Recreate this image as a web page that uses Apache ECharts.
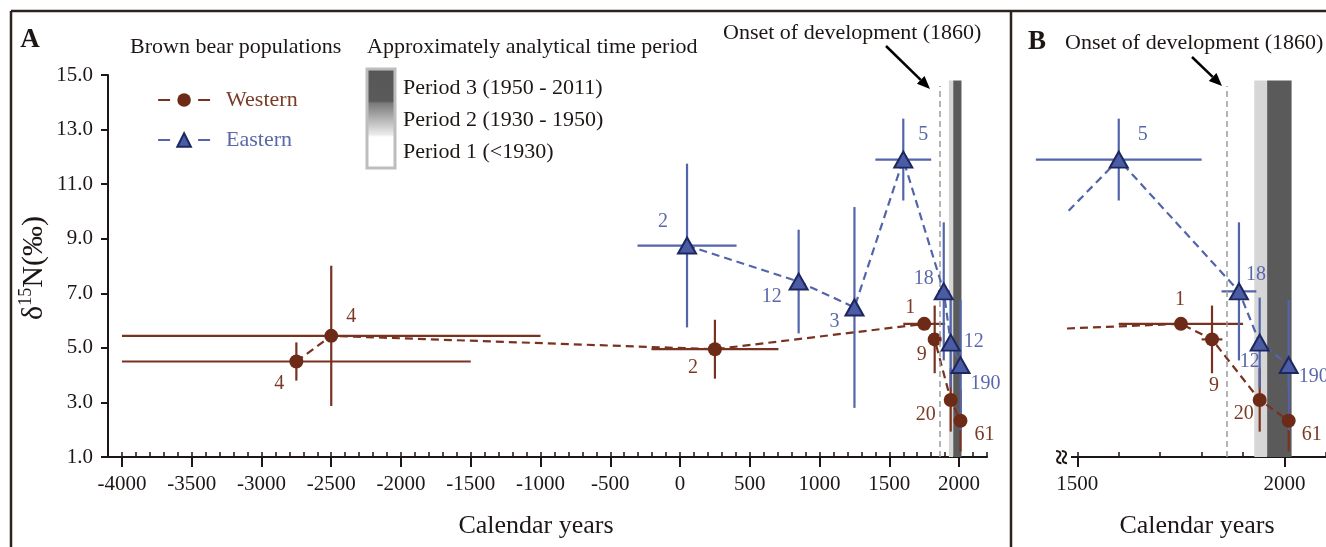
<!DOCTYPE html>
<html>
<head>
  <meta charset="UTF-8">
  <title>Brown bear δ15N</title>
  <script src="https://cdn.jsdelivr.net/npm/echarts@6/dist/echarts.min.js"></script>
  <style>
    html, body { margin: 0; padding: 0; background: #fff; }
    #main { width: 1326px; height: 547px; }
  </style>
</head>
<body>
<div id="main"></div>
<script>
  // Western population (brown, circles)
  const westYears = [-2750, -2500, 250, 1750, 1825, 1940, 2010];
  const westD15N = [4.50, 5.44, 4.95, 5.88, 5.31, 3.09, 2.33];
  const westYearErr = [1250, 1500, 455, 150, 25, 0, 0];
  const westD15NErr = [0.70, 2.57, 1.08, 0, 1.24, 1.16, 1.13];
  const westN = [4, 4, 2, 1, 9, 20, 61];

  // Eastern population (blue, triangles)
  const eastYears = [50, 850, 1250, 1600, 1890, 1940, 2010];
  const eastD15N = [8.75, 7.43, 6.48, 11.90, 7.07, 5.19, 4.37];
  const eastYearErr = [355, 0, 0, 200, 42, 0, 0];
  const eastD15NErr = [3.00, 1.90, 3.68, 1.50, 2.53, 1.65, 2.39];
  const eastN = [2, 12, 3, 5, 18, 12, 190];

  // analytical time periods (shaded) and onset of development
  const periodLight = [1927, 1958];
  const periodDark = [1958, 2017];
  const onsetYear = 1860;

  const xTicksA = [-4000, -3500, -3000, -2500, -2000, -1500, -1000, -500, 0, 500, 1000, 1500, 2000];
  const xTicksB = [1500, 2000];

  // label offsets (pixels from the point), per panel
  const westOffA = [[-17, 22], [20, -19], [-22, 19], [-14, -16], [-13, 15], [-25, 15], [24, 14]];
  const westOffB = [[0, 0], [0, 0], [0, 0], [-1, -24], [2, 46], [-16, 14], [23, 14]];
  const eastOffA = [[-24, -24], [-27, 15], [-20, 14], [20, -25], [-20, -13], [23, -1], [25, 19]];
  const eastOffB = [[0, 0], [0, 0], [0, 0], [24, -25], [17, -17], [-10, 19], [25, 12]];

  const serif = '"Liberation Serif", "DejaVu Serif", serif';
  const ink = '#1c1614';
  const brown = '#7a3220';
  const brownDot = '#6c2a17';
  const brownText = '#7a3a26';
  const blue = '#5265aa';
  const triFill = '#4b5ca4';
  const triBorder = '#1c2860';
  const blueText = '#5a68ab';

  function hundreds(a, b) {
    const out = [];
    for (let v = a; v <= b; v += 100) out.push(v);
    return out;
  }

  function errData(xs, ys, exs, eys, lo, hi) {
    const out = [];
    xs.forEach(function (x, i) {
      if (x >= lo && x <= hi) out.push([x, ys[i], exs[i], eys[i]]);
    });
    return out;
  }

  function errRender(color) {
    return function (params, api) {
      const x = api.value(0), y = api.value(1), ex = api.value(2), ey = api.value(3);
      const kids = [];
      if (ey > 0) {
        const p1 = api.coord([x, y + ey]), p2 = api.coord([x, y - ey]);
        kids.push({type: 'line', shape: {x1: p1[0], y1: p1[1], x2: p2[0], y2: p2[1]},
          style: {stroke: color, lineWidth: 2.2}});
      }
      if (ex > 0) {
        const p1 = api.coord([x - ex, y]), p2 = api.coord([x + ex, y]);
        kids.push({type: 'line', shape: {x1: p1[0], y1: p1[1], x2: p2[0], y2: p2[1]},
          style: {stroke: color, lineWidth: 2.2}});
      }
      return {type: 'group', children: kids};
    };
  }

  function pointData(xs, ys, offs) {
    return xs.map(function (x, i) {
      return {value: [x, ys[i]], label: {offset: offs[i]}};
    });
  }

  function arrow(x1, y1, x2, y2) {
    const dx = x2 - x1, dy = y2 - y1, len = Math.sqrt(dx * dx + dy * dy);
    const ux = dx / len, uy = dy / len, h = 13, w = 5.5;
    const bx = x2 - ux * h, by = y2 - uy * h;
    return [
      {type: 'line', shape: {x1: x1, y1: y1, x2: bx, y2: by}, style: {stroke: '#000', lineWidth: 2.5}},
      {type: 'polygon', shape: {points: [[x2, y2], [bx - uy * w, by + ux * w], [bx + uy * w, by - ux * w]]},
        style: {fill: '#000'}}
    ];
  }

  function bandSeries(xi, yi) {
    return {
      type: 'line', xAxisIndex: xi, yAxisIndex: yi, data: [], z: 1, silent: true,
      markArea: {
        silent: true,
        data: [
          [{coord: [periodLight[0], 1], itemStyle: {color: '#d6d6d6'}}, {coord: [periodLight[1], 14.8]}],
          [{coord: [periodDark[0], 1], itemStyle: {color: '#5a5a5a'}}, {coord: [periodDark[1], 14.8]}]
        ]
      },
      markLine: {
        silent: true, symbol: 'none', label: {show: false},
        lineStyle: {color: '#9c9c9c', type: [6, 4], width: 1.5},
        data: [[{coord: [onsetYear, 1]}, {coord: [onsetYear, 14.6]}]]
      }
    };
  }

  function lineSeries(name, xi, yi, xs, ys, offs, ns, isWest) {
    return {
      name: name, type: 'line', xAxisIndex: xi, yAxisIndex: yi, z: isWest ? 4 : 5,
      data: pointData(xs, ys, offs),
      clip: true,
      symbol: isWest ? 'circle' : 'triangle',
      symbolSize: isWest ? 14 : [18, 16],
      lineStyle: {color: isWest ? brown : blue, width: 2.2, type: [8, 5]},
      itemStyle: isWest ? {color: brownDot} : {color: triFill, borderColor: triBorder, borderWidth: 2},
      label: {
        show: true, position: 'inside', fontFamily: serif, fontSize: 20,
        color: isWest ? brownText : blueText,
        formatter: function (p) { return String(ns[p.dataIndex]); }
      },
      emphasis: {disabled: true}
    };
  }

  const axisColor = ink;
  const textBase = {fontFamily: serif, fill: ink, fontSize: 22, verticalAlign: 'middle'};
  const plain = function (v) { return String(v); };

  const option = {
    animation: false,
    backgroundColor: '#fff',
    grid: [
      {left: 108, top: 75, width: 879, height: 382, outerBoundsMode: 'none'},
      {left: 1069, top: 75, width: 257, height: 382, outerBoundsMode: 'none'}
    ],
    legend: {
      left: 152, top: 84, orient: 'vertical', itemWidth: 52, itemHeight: 17, itemGap: 18,
      selectedMode: false,
      lineStyle: {type: [12, 28], width: 2.2},
      textStyle: {fontFamily: serif, fontSize: 22, lineHeight: 22, padding: [0, 0, 0, 11]},
      data: [
        {name: 'Western', textStyle: {color: brownText}},
        {name: 'Eastern', textStyle: {color: blueText}}
      ]
    },
    xAxis: [
      {
        type: 'value', gridIndex: 0, min: -4100, max: 2200, position: 'bottom',
        splitLine: {show: false},
        axisLine: {onZero: false, lineStyle: {color: axisColor, width: 2}},
        axisTick: {customValues: xTicksA, length: 10, lineStyle: {color: axisColor, width: 2}},
        axisLabel: {customValues: xTicksA, fontFamily: serif, fontSize: 21, color: ink, margin: 17, formatter: plain}
      },
      {
        type: 'value', gridIndex: 0, min: -4100, max: 2200, position: 'bottom',
        splitLine: {show: false}, axisLine: {show: false, onZero: false}, axisLabel: {show: false},
        axisTick: {customValues: hundreds(-4000, 2200), inside: true, length: 5, lineStyle: {color: axisColor, width: 1.5}}
      },
      {
        type: 'value', gridIndex: 1, min: 1480, max: 2100, position: 'bottom',
        splitLine: {show: false},
        axisLine: {onZero: false, lineStyle: {color: axisColor, width: 2}},
        axisTick: {customValues: xTicksB, length: 10, lineStyle: {color: axisColor, width: 2}},
        axisLabel: {customValues: xTicksB, fontFamily: serif, fontSize: 21, color: ink, margin: 17, formatter: plain}
      },
      {
        type: 'value', gridIndex: 1, min: 1480, max: 2100, position: 'bottom',
        splitLine: {show: false}, axisLine: {show: false, onZero: false}, axisLabel: {show: false},
        axisTick: {customValues: hundreds(1500, 2100), inside: true, length: 5, lineStyle: {color: axisColor, width: 1.5}}
      }
    ],
    yAxis: [
      {
        type: 'value', gridIndex: 0, min: 1, max: 15, interval: 2, position: 'left',
        splitLine: {show: false},
        axisLine: {show: true, onZero: false, lineStyle: {color: axisColor, width: 2}},
        axisTick: {show: true, length: 7, lineStyle: {color: axisColor, width: 2}},
        axisLabel: {fontFamily: serif, fontSize: 21, color: ink, margin: 15,
          formatter: function (v) { return v.toFixed(1); }}
      },
      {type: 'value', gridIndex: 1, min: 1, max: 15, show: false, axisLine: {onZero: false}}
    ],
    series: [
      bandSeries(0, 0),
      {type: 'custom', xAxisIndex: 0, yAxisIndex: 0, z: 2, silent: true,
        renderItem: errRender(brown), encode: {x: 0, y: 1},
        data: errData(westYears, westD15N, westYearErr, westD15NErr, -5000, 3000)},
      {type: 'custom', xAxisIndex: 0, yAxisIndex: 0, z: 3, silent: true,
        renderItem: errRender(blue), encode: {x: 0, y: 1},
        data: errData(eastYears, eastD15N, eastYearErr, eastD15NErr, -5000, 3000)},
      lineSeries('Western', 0, 0, westYears, westD15N, westOffA, westN, true),
      lineSeries('Eastern', 0, 0, eastYears, eastD15N, eastOffA, eastN, false),

      bandSeries(2, 1),
      {type: 'custom', xAxisIndex: 2, yAxisIndex: 1, z: 2, silent: true, clip: false,
        renderItem: errRender(brown), encode: {x: 0, y: 1},
        data: errData(westYears, westD15N, westYearErr, westD15NErr, 1480, 2100)},
      {type: 'custom', xAxisIndex: 2, yAxisIndex: 1, z: 3, silent: true, clip: false,
        renderItem: errRender(blue), encode: {x: 0, y: 1},
        data: errData(eastYears, eastD15N, eastYearErr, eastD15NErr, 1480, 2100)},
      lineSeries('Western', 2, 1, westYears, westD15N, westOffB, westN, true),
      lineSeries('Eastern', 2, 1, eastYears, eastD15N, eastOffB, eastN, false)
    ],
    graphic: [
      // figure frame
      {type: 'line', shape: {x1: 11, y1: 11, x2: 1326, y2: 11}, style: {stroke: '#2d2220', lineWidth: 2.5}},
      {type: 'line', shape: {x1: 11, y1: 11, x2: 11, y2: 547}, style: {stroke: '#2d2220', lineWidth: 2.5}},
      {type: 'line', shape: {x1: 1011, y1: 11, x2: 1011, y2: 547}, style: {stroke: '#2d2220', lineWidth: 2.5}},
      // panel letters
      {type: 'text', x: 30, y: 40, style: Object.assign({}, textBase, {text: 'A', fontSize: 27, fontWeight: 'bold', align: 'center'})},
      {type: 'text', x: 1037, y: 42, style: Object.assign({}, textBase, {text: 'B', fontSize: 27, fontWeight: 'bold', align: 'center'})},
      // legend titles
      {type: 'text', x: 130, y: 47, style: Object.assign({}, textBase, {text: 'Brown bear populations', align: 'left'})},
      {type: 'text', x: 367, y: 47, style: Object.assign({}, textBase, {text: 'Approximately analytical time period', align: 'left'})},
      // period legend box
      {type: 'rect', shape: {x: 367, y: 69, width: 28, height: 99},
        style: {stroke: '#bdbdbd', lineWidth: 3,
          fill: new echarts.graphic.LinearGradient(0, 0, 0, 1, [
            {offset: 0, color: '#575757'}, {offset: 0.33, color: '#5a5a5a'},
            {offset: 0.35, color: '#7a7a7a'}, {offset: 0.66, color: '#ececec'},
            {offset: 0.68, color: '#ffffff'}, {offset: 1, color: '#ffffff'}])}},
      {type: 'text', x: 403, y: 88, style: Object.assign({}, textBase, {text: 'Period 3 (1950 - 2011)', align: 'left'})},
      {type: 'text', x: 403, y: 120, style: Object.assign({}, textBase, {text: 'Period 2 (1930 - 1950)', align: 'left'})},
      {type: 'text', x: 403, y: 152, style: Object.assign({}, textBase, {text: 'Period 1 (<1930)', align: 'left'})},
      // onset annotations
      {type: 'text', x: 723, y: 33, style: Object.assign({}, textBase, {text: 'Onset of development (1860)', align: 'left'})},
      {type: 'group', children: arrow(886, 46, 930, 89)},
      {type: 'text', x: 1065, y: 43, style: Object.assign({}, textBase, {text: 'Onset of development (1860)', align: 'left'})},
      {type: 'group', children: arrow(1192, 57, 1222, 86)},
      // axis names
      {type: 'text', x: 536, y: 526, style: Object.assign({}, textBase, {text: 'Calendar years', fontSize: 26, align: 'center'})},
      {type: 'text', x: 1197, y: 526, style: Object.assign({}, textBase, {text: 'Calendar years', fontSize: 26, align: 'center'})},
      {type: 'text', x: 34, y: 268, rotation: Math.PI / 2,
        style: {text: '{a|δ}{b|15}{a|N(‰)}', align: 'center', verticalAlign: 'middle', fill: ink,
          rich: {
            a: {fontFamily: serif, fontSize: 30, lineHeight: 34, fill: ink},
            b: {fontFamily: serif, fontSize: 18, lineHeight: 34, fill: ink, padding: [0, 0, 16, 0]}
          }}},
      // axis break mark on panel B
      {type: 'rect', shape: {x: 1060, y: 452, width: 11, height: 10}, style: {fill: '#fff'}, z: 99},
      {type: 'text', x: 1064, y: 457, rotation: Math.PI / 2, z: 100,
        style: {text: '≈', fontFamily: serif, fontSize: 28, fontWeight: 'bold', fill: ink, align: 'center', verticalAlign: 'middle'}}
    ]
  };

  const myChart = echarts.init(document.getElementById('main'), null, {renderer: 'canvas'});
  myChart.setOption(option);
  window.addEventListener('resize', function () {
    myChart.resize();
  });
</script>
</body>
</html>
